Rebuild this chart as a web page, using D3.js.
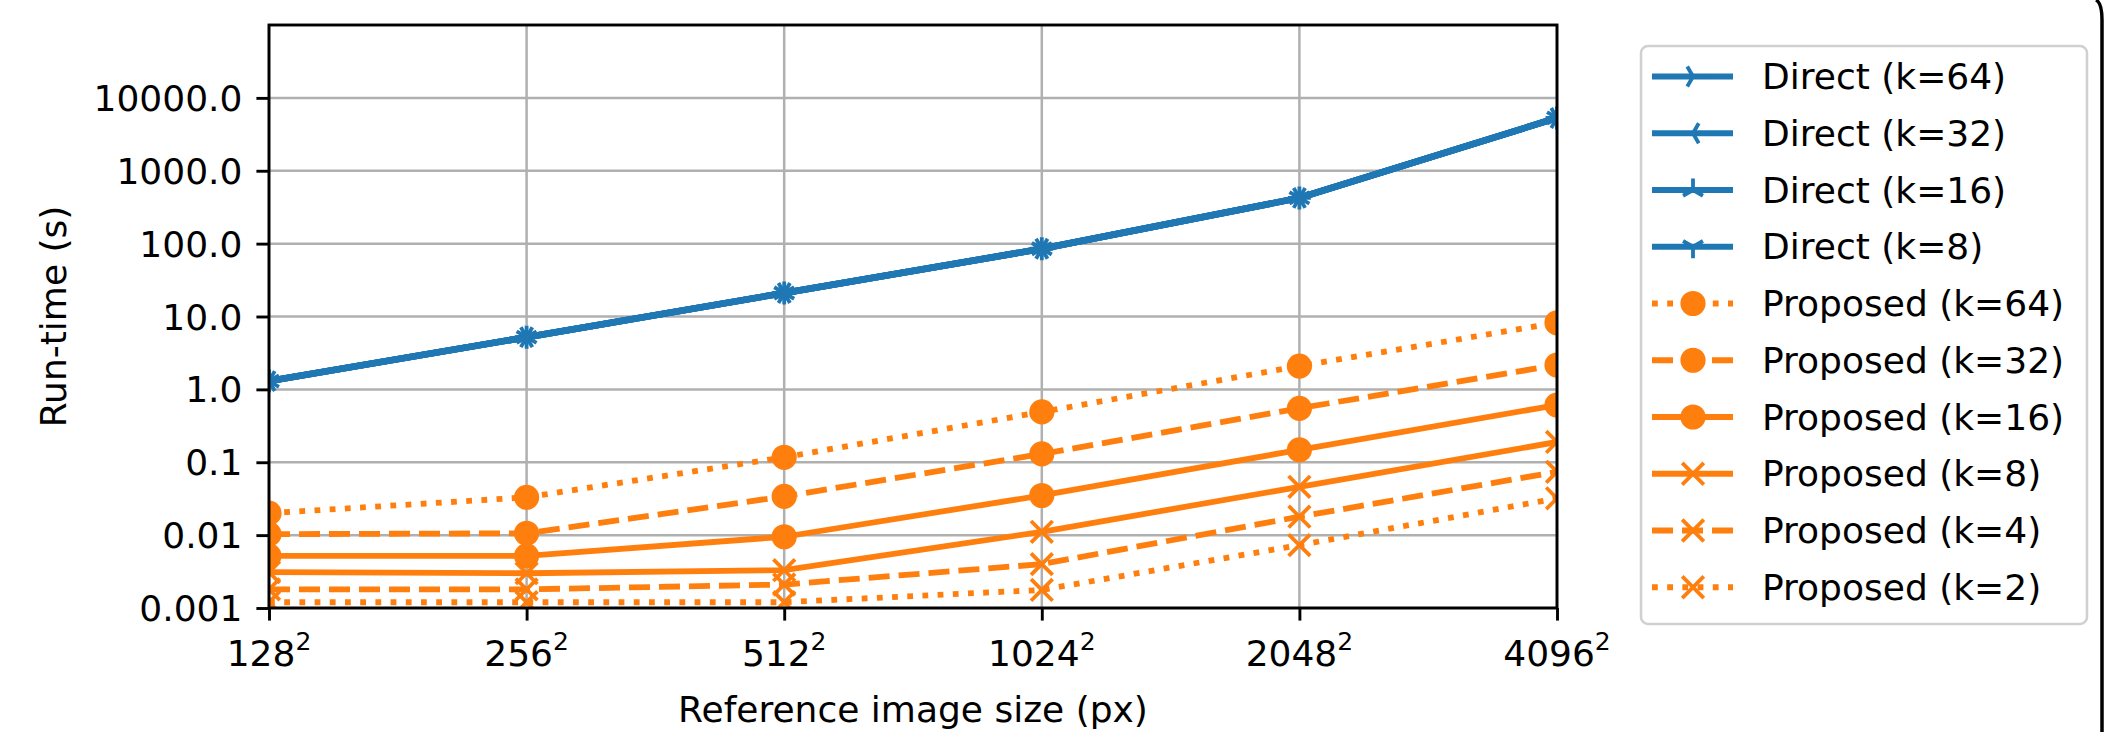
<!DOCTYPE html>
<html>
<head>
<meta charset="utf-8">
<script src="https://cdn.jsdelivr.net/npm/d3@7"></script>
<style>
  body { margin: 0; background: #fff; }
  text { font-family: "DejaVu Sans", sans-serif; fill: #000; }
</style>
</head>
<body>
<svg id="chart" width="2118" height="732"></svg>
<script>
// image sizes (px per side), x categories
const sizes = [128, 256, 512, 1024, 2048, 4096];
const yTicks = [0.001, 0.01, 0.1, 1, 10, 100, 1000, 10000];
const yTickLabels = ["0.001", "0.01", "0.1", "1.0", "10.0", "100.0", "1000.0", "10000.0"];

// run-times in seconds
const direct64 = [1.3, 5.2, 21, 85, 424, 5300];
const direct32 = [1.3, 5.2, 21, 85, 424, 5300];
const direct16 = [1.3, 5.2, 21, 85, 424, 5300];
const direct8  = [1.3, 5.2, 21, 85, 424, 5300];
const proposed64 = [0.020, 0.033, 0.117, 0.49, 2.09, 8.2];
const proposed32 = [0.0103, 0.0106, 0.034, 0.130, 0.55, 2.16];
const proposed16 = [0.0052, 0.0052, 0.0095, 0.035, 0.148, 0.61];
const proposed8  = [0.0031, 0.0030, 0.0033, 0.0111, 0.046, 0.19];
const proposed4  = [0.0018, 0.0018, 0.0021, 0.0040, 0.0179, 0.074];
const proposed2  = [0.0012, 0.0012, 0.0012, 0.00177, 0.0073, 0.032];

const blue = '#1f77b4', orange = '#ff7f0e';
const DASHED = '21,9', DOTTED = '5.8,9.4';

const series = [
  {label: 'Direct (k=64)', values: direct64, color: blue, dash: null, marker: 'triRight'},
  {label: 'Direct (k=32)', values: direct32, color: blue, dash: null, marker: 'triLeft'},
  {label: 'Direct (k=16)', values: direct16, color: blue, dash: null, marker: 'triUp'},
  {label: 'Direct (k=8)', values: direct8, color: blue, dash: null, marker: 'triDown'},
  {label: 'Proposed (k=64)', values: proposed64, color: orange, dash: DOTTED, marker: 'circle'},
  {label: 'Proposed (k=32)', values: proposed32, color: orange, dash: DASHED, marker: 'circle'},
  {label: 'Proposed (k=16)', values: proposed16, color: orange, dash: null, marker: 'circle'},
  {label: 'Proposed (k=8)', values: proposed8, color: orange, dash: null, marker: 'x'},
  {label: 'Proposed (k=4)', values: proposed4, color: orange, dash: DASHED, marker: 'x'},
  {label: 'Proposed (k=2)', values: proposed2, color: orange, dash: DOTTED, marker: 'x'},
];

const plot = {left: 269, right: 1557, top: 25, bottom: 608};

const svg = d3.select('#chart');

const x = d3.scaleLog().base(2).domain([128, 4096]).range([plot.left, plot.right]);
const y = d3.scaleLog().domain([1e-3, 1e5]).range([plot.bottom, plot.top]);

svg.append('defs').append('clipPath').attr('id', 'plotclip')
  .append('rect')
  .attr('x', plot.left).attr('y', plot.top)
  .attr('width', plot.right - plot.left).attr('height', plot.bottom - plot.top);

// grid
const grid = svg.append('g').attr('class', 'grid');
grid.selectAll('line.gx').data(sizes).join('line')
  .attr('x1', d => x(d)).attr('x2', d => x(d))
  .attr('y1', plot.top).attr('y2', plot.bottom)
  .attr('stroke', '#b0b0b0').attr('stroke-width', 2.5);
grid.selectAll('line.gy').data(yTicks).join('line')
  .attr('x1', plot.left).attr('x2', plot.right)
  .attr('y1', d => y(d)).attr('y2', d => y(d))
  .attr('stroke', '#b0b0b0').attr('stroke-width', 2.5);

function markerPath(type, r) {
  const s = 0.866 * r, h = 0.5 * r;
  switch (type) {
    case 'triRight': return `M0,0L${r},0M0,0L${-h},${-s}M0,0L${-h},${s}`;
    case 'triLeft':  return `M0,0L${-r},0M0,0L${h},${-s}M0,0L${h},${s}`;
    case 'triUp':    return `M0,0L0,${-r}M0,0L${-s},${h}M0,0L${s},${h}`;
    case 'triDown':  return `M0,0L0,${r}M0,0L${-s},${-h}M0,0L${s},${-h}`;
    case 'x':        return `M${-r},${-r}L${r},${r}M${-r},${r}L${r},${-r}`;
  }
}

function drawMarker(g, type, color) {
  if (type === 'circle') {
    g.append('circle').attr('r', 10.8).attr('fill', color)
      .attr('stroke', color).attr('stroke-width', 3.6);
  } else {
    g.append('path').attr('d', markerPath(type, type === 'x' ? 10.8 : 11.5))
      .attr('fill', 'none').attr('stroke', color).attr('stroke-width', 3.8);
  }
}

const line = d3.line().x((d, i) => x(sizes[i])).y(d => y(d));

const data = svg.append('g').attr('clip-path', 'url(#plotclip)');
series.forEach(s => {
  const g = data.append('g');
  g.append('path').datum(s.values)
    .attr('d', line)
    .attr('fill', 'none')
    .attr('stroke', s.color)
    .attr('stroke-width', s.color === blue ? 6.5 : 5.8)
    .attr('stroke-linejoin', 'round')
    .attr('stroke-dasharray', s.dash);
  s.values.forEach((v, i) => {
    const m = g.append('g').attr('transform', `translate(${x(sizes[i])},${y(v)})`);
    drawMarker(m, s.marker, s.color);
  });
});

// axes
const yAxis = svg.append('g')
  .attr('transform', `translate(${plot.left},0)`)
  .call(d3.axisLeft(y).tickValues(yTicks).tickFormat((d, i) => yTickLabels[i]).tickSize(12.6).tickPadding(14));
const xAxis = svg.append('g')
  .attr('transform', `translate(0,${plot.bottom})`)
  .call(d3.axisBottom(x).tickValues(sizes).tickFormat('').tickSize(12.6));

[xAxis, yAxis].forEach(a => {
  a.select('.domain').remove();
  a.selectAll('.tick line').attr('stroke', '#000').attr('stroke-width', 2.9);
});
yAxis.selectAll('.tick text')
  .attr('font-size', 36).attr('font-family', 'DejaVu Sans').attr('fill', '#000')
  .attr('dy', '0.35em');

// x tick labels with superscript 2
const xl = svg.append('g');
sizes.forEach(s => {
  const t = xl.append('text')
    .attr('x', x(s)).attr('y', 666)
    .attr('text-anchor', 'middle')
    .attr('font-size', 36);
  t.append('tspan').text(s);
  t.append('tspan').attr('font-size', 25).attr('dy', -16).text('2');
});

// spines
svg.append('rect')
  .attr('x', plot.left).attr('y', plot.top)
  .attr('width', plot.right - plot.left).attr('height', plot.bottom - plot.top)
  .attr('fill', 'none').attr('stroke', '#000').attr('stroke-width', 2.9);

// axis titles
svg.append('text')
  .attr('x', (plot.left + plot.right) / 2).attr('y', 722)
  .attr('text-anchor', 'middle').attr('font-size', 36)
  .text('Reference image size (px)');
svg.append('text')
  .attr('transform', `translate(66,${(plot.top + plot.bottom) / 2}) rotate(-90)`)
  .attr('text-anchor', 'middle').attr('font-size', 36)
  .text('Run-time (s)');

// legend
const legend = svg.append('g');
legend.append('rect')
  .attr('x', 1641).attr('y', 46).attr('width', 446).attr('height', 578)
  .attr('rx', 7).attr('ry', 7)
  .attr('fill', '#fff').attr('stroke', '#d0d0d0').attr('stroke-width', 2.5);
series.forEach((s, i) => {
  const cy = 76.5 + i * 56.75;
  const g = legend.append('g');
  g.append('line')
    .attr('x1', 1652).attr('x2', 1733).attr('y1', cy).attr('y2', cy)
    .attr('stroke', s.color).attr('stroke-width', 5.8)
    .attr('stroke-dasharray', s.dash);
  drawMarker(g.append('g').attr('transform', `translate(1693,${cy})`), s.marker, s.color);
  g.append('text')
    .attr('x', 1762).attr('y', cy).attr('dy', '0.35em')
    .attr('font-size', 36)
    .text(s.label);
});

// edge of the outer frame on the right
svg.append('path')
  .attr('d', 'M2096,0Q2102,3 2102,20L2102,732')
  .attr('fill', 'none').attr('stroke', '#000').attr('stroke-width', 3.5);
</script>
</body>
</html>
